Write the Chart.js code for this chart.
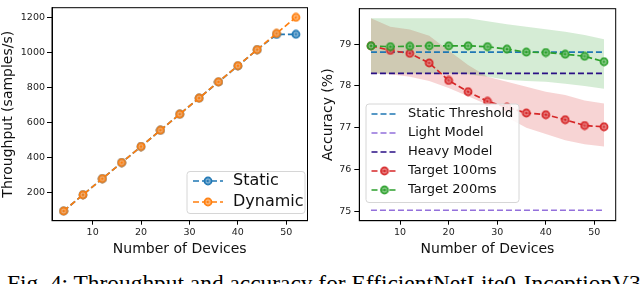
<!DOCTYPE html>
<html>
<head>
<meta charset="utf-8">
<script src="https://cdn.jsdelivr.net/npm/chart.js@4.4.1/dist/chart.umd.min.js"></script>
<style>
  html, body { margin: 0; padding: 0; background: #fff; }
  body { width: 640px; height: 284px; position: relative; overflow: hidden; }
  canvas { position: absolute; top: 0; }
  #left { left: 0; }
  #right { left: 320px; }
  .caption { position: absolute; left: 7px; top: 271.5px; font-family: 'Liberation Serif', serif; font-size: 23.4px; line-height: 23.4px; white-space: nowrap; color: #000; }
</style>
</head>
<body>
<canvas id="left" width="320" height="261"></canvas>
<canvas id="right" width="320" height="261"></canvas>
<div class="caption">Fig. 4: Throughput and accuracy for EfficientNetLite0-InceptionV3</div>
<script>
// datos
const devices = [4, 8, 12, 16, 20, 24, 28, 32, 36, 40, 44, 48, 52];
const throughputStatic  = [92, 185, 277, 369, 461, 554, 646, 738, 830, 922, 1015, 1102, 1103];
const throughputDynamic = [92, 185, 277, 369, 461, 554, 646, 738, 831, 923, 1015, 1108, 1200];

const target100   = [78.96, 78.85, 78.78, 78.55, 78.13, 77.86, 77.63, 77.49, 77.35, 77.31, 77.19, 77.05, 77.02];
const target100Hi = [79.62, 79.42, 79.35, 79.20, 78.85, 78.50, 78.22, 78.10, 77.98, 77.86, 77.78, 77.65, 77.58];
const target100Lo = [78.30, 78.28, 78.22, 78.12, 77.95, 77.75, 77.55, 77.25, 77.00, 76.85, 76.70, 76.60, 76.55];
const target200   = [78.96, 78.94, 78.95, 78.96, 78.96, 78.96, 78.94, 78.88, 78.81, 78.80, 78.76, 78.71, 78.58];
const target200Hi = [79.62, 79.62, 79.62, 79.62, 79.62, 79.62, 79.55, 79.48, 79.42, 79.36, 79.30, 79.22, 79.12];
const target200Lo = [78.30, 78.30, 78.30, 78.30, 78.30, 78.28, 78.22, 78.15, 78.12, 78.10, 78.05, 78.00, 77.93];

const staticThreshold = 78.81;
const lightModel = 75.02;
const heavyModel = 78.30;

const xTicks = [10, 20, 30, 40, 50];
const throughputTicks = [200, 400, 600, 800, 1000, 1200];
const accuracyTicks = [75, 76, 77, 78, 79];

const FONT = "'DejaVu Sans', sans-serif";
const pts = (ys) => devices.map((d, i) => ({ x: d, y: ys[i] }));
const flat = (v) => devices.map(d => ({ x: d, y: v }));

function makeMarker(color) {
  const c = document.createElement('canvas');
  c.width = 10; c.height = 10;
  const g = c.getContext('2d');
  g.beginPath(); g.arc(5, 5, 3.8, 0, Math.PI * 2);
  g.globalAlpha = 0.85; g.fillStyle = color; g.fill();
  g.globalAlpha = 1; g.strokeStyle = color; g.lineWidth = 1.2; g.stroke();
  g.beginPath(); g.arc(5, 5, 2, 0, Math.PI * 2);
  g.strokeStyle = 'rgba(255,255,255,0.5)'; g.lineWidth = 0.8; g.stroke();
  return c;
}

function roundRect(ctx, x, y, w, h, r) {
  ctx.beginPath();
  ctx.moveTo(x + r, y);
  ctx.arcTo(x + w, y, x + w, y + h, r);
  ctx.arcTo(x + w, y + h, x, y + h, r);
  ctx.arcTo(x, y + h, x, y, r);
  ctx.arcTo(x, y, x + w, y, r);
  ctx.closePath();
}

// marco negro alrededor del área
const framePlugin = {
  id: 'frame',
  afterDraw(chart) {
    const { ctx, chartArea: a } = chart;
    ctx.save();
    ctx.strokeStyle = '#000';
    ctx.lineWidth = 1;
    ctx.strokeRect(a.left, a.top, a.right - a.left, a.bottom - a.top);
    ctx.restore();
  }
};

// leyenda dentro del gráfico, estilo matplotlib
const boxLegend = {
  id: 'boxLegend',
  afterDraw(chart, args, o) {
    const ctx = chart.ctx;
    const items = chart.data.datasets.filter(d => d.label);
    ctx.save();
    roundRect(ctx, o.x, o.y, o.w, o.h, 3);
    ctx.fillStyle = 'rgba(255,255,255,0.85)';
    ctx.fill();
    ctx.strokeStyle = '#d6d6d6';
    ctx.lineWidth = 1;
    ctx.stroke();
    ctx.font = o.size + 'px ' + FONT;
    ctx.textBaseline = 'middle';
    items.forEach((d, i) => {
      const y = o.row0 + i * o.gap;
      ctx.strokeStyle = d.borderColor;
      ctx.lineWidth = d.borderWidth;
      ctx.setLineDash(d.borderDash || []);
      ctx.beginPath(); ctx.moveTo(o.h0, y); ctx.lineTo(o.h1, y); ctx.stroke();
      ctx.setLineDash([]);
      if (d.pointStyle instanceof HTMLCanvasElement) {
        ctx.drawImage(d.pointStyle, (o.h0 + o.h1) / 2 - 5, y - 5);
      }
      ctx.fillStyle = '#111';
      ctx.fillText(d.label, o.tx, y);
    });
    ctx.restore();
  }
};

function axes(yMin, yMax, yTicks, yTitle, yWidth, yPad) {
  return {
    x: {
      type: 'linear', min: 1.6, max: 54.4,
      afterBuildTicks: s => { s.ticks = xTicks.map(v => ({ value: v })); },
      afterFit: s => { s.height = 40.3; },
      grid: { drawOnChartArea: false, drawTicks: true, tickLength: 4, color: '#000' },
      border: { display: true, color: '#000' },
      ticks: { color: '#222', font: { family: FONT, size: 9.5 }, padding: 2, maxRotation: 0, callback: v => String(v) },
      title: { display: true, text: 'Number of Devices', color: '#111', font: { family: FONT, size: 14 }, padding: { top: 0, bottom: 3 } }
    },
    y: {
      type: 'linear', min: yMin, max: yMax,
      afterBuildTicks: s => { s.ticks = yTicks.map(v => ({ value: v })); },
      afterFit: s => { s.width = yWidth; },
      grid: { drawOnChartArea: false, drawTicks: true, tickLength: 5, color: '#000' },
      border: { display: true, color: '#000' },
      ticks: { color: '#222', font: { family: FONT, size: 9.5 }, padding: yPad, callback: v => String(v) },
      title: { display: true, text: yTitle, color: '#111', font: { family: FONT, size: 14 }, padding: { top: 0, bottom: 0 } }
    }
  };
}

const dash = [6, 3];

new Chart(document.getElementById('left'), {
  type: 'line',
  data: {
    datasets: [
      { label: 'Static', data: pts(throughputStatic), borderColor: '#1f77b4', borderWidth: 1.7, borderDash: dash,
        pointStyle: makeMarker('#1f77b4'), order: 2 },
      { label: 'Dynamic', data: pts(throughputDynamic), borderColor: '#ff7f0e', borderWidth: 1.7, borderDash: dash,
        pointStyle: makeMarker('#ff7f0e'), order: 1 }
    ]
  },
  options: {
    responsive: false, animation: false, devicePixelRatio: 1,
    layout: { padding: { top: 2, right: 12.5, left: 0, bottom: 0 } },
    scales: axes(36.6, 1255, throughputTicks, 'Throughput (samples/s)', 52, 2),
    plugins: {
      legend: { display: false }, tooltip: { enabled: false },
      boxLegend: { x: 187, y: 171.5, w: 118, h: 42, size: 16, row0: 181, gap: 21, h0: 193, h1: 223, tx: 233 }
    }
  },
  plugins: [framePlugin, boxLegend]
});

const red = '#d62728', green = '#2ca02c';
new Chart(document.getElementById('right'), {
  type: 'line',
  data: {
    datasets: [
      { label: 'Static Threshold', data: flat(staticThreshold), borderColor: '#1f77b4', borderWidth: 1.7, borderDash: dash, pointRadius: 0, order: 5 },
      { label: 'Light Model', data: flat(lightModel), borderColor: '#9370db', borderWidth: 1.7, borderDash: dash, pointRadius: 0, order: 5 },
      { label: 'Heavy Model', data: flat(heavyModel), borderColor: '#2a0f85', borderWidth: 1.7, borderDash: dash, pointRadius: 0, order: 5 },
      { label: 'Target 100ms', data: pts(target100), borderColor: red, borderWidth: 1.7, borderDash: dash, pointStyle: makeMarker(red), order: 2 },
      { label: 'Target 200ms', data: pts(target200), borderColor: green, borderWidth: 1.7, borderDash: dash, pointStyle: makeMarker(green), order: 1 },
      { data: pts(target100Hi), borderWidth: 0, pointRadius: 0, order: 10 },
      { data: pts(target100Lo), borderWidth: 0, pointRadius: 0, order: 10, fill: '-1', backgroundColor: 'rgba(214,39,40,0.2)' },
      { data: pts(target200Hi), borderWidth: 0, pointRadius: 0, order: 9 },
      { data: pts(target200Lo), borderWidth: 0, pointRadius: 0, order: 9, fill: '-1', backgroundColor: 'rgba(44,160,44,0.2)' }
    ]
  },
  options: {
    responsive: false, animation: false, devicePixelRatio: 1,
    layout: { padding: { top: 2, right: 24.3, left: 0, bottom: 0 } },
    scales: axes(74.77, 79.85, accuracyTicks, 'Accuracy (%)', 39.3, 3),
    plugins: {
      legend: { display: false }, tooltip: { enabled: false },
      boxLegend: { x: 46, y: 104, w: 153, h: 98.5, size: 13, row0: 114, gap: 19, h0: 51.5, h1: 77.5, tx: 88 }
    }
  },
  plugins: [framePlugin, boxLegend]
});
</script>
</body>
</html>
